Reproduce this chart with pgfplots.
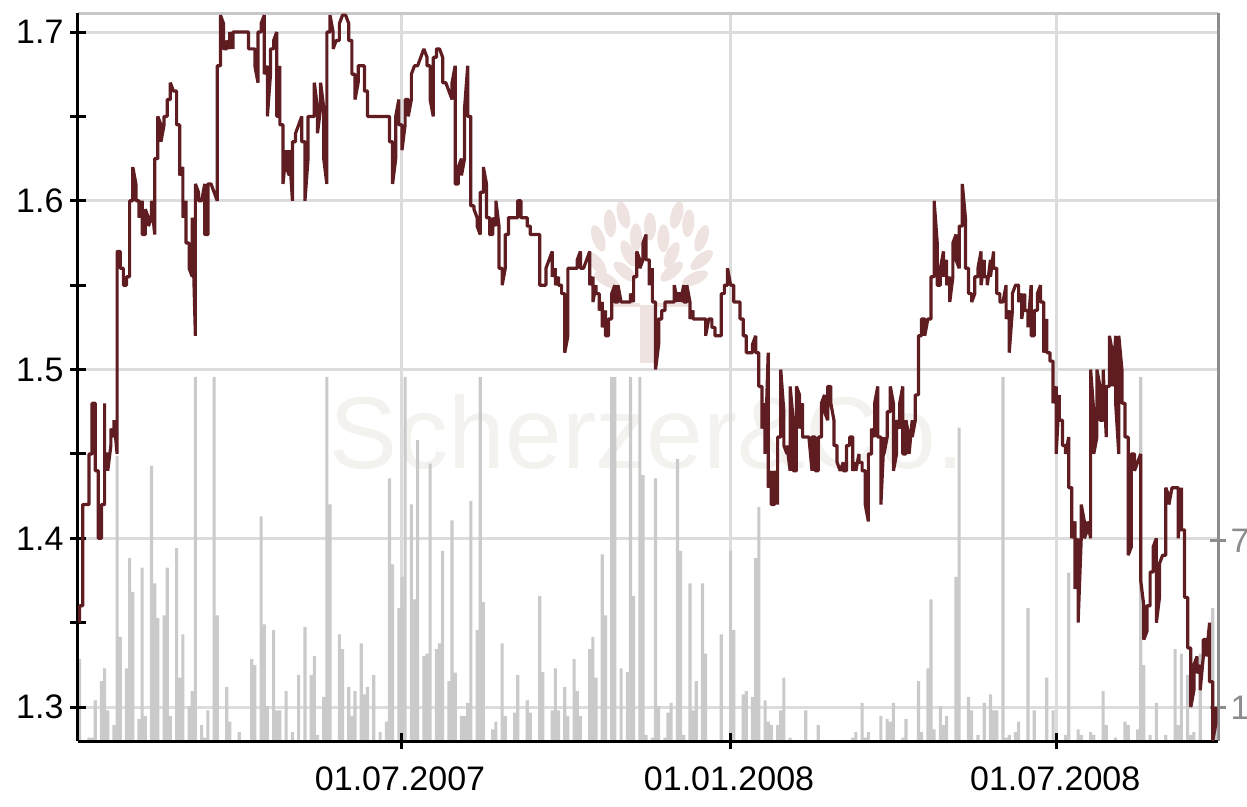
\documentclass[border=0pt]{standalone}
\usepackage{fontspec}
\setmainfont{Liberation Sans}
\usepackage{pgfplots}
\usepackage{pgfplotstable}
\pgfplotsset{compat=1.18}
\definecolor{grid}{HTML}{DCDCDC}
\definecolor{vol}{HTML}{CACACA}
\definecolor{maroon}{HTML}{5F1D22}
\definecolor{frameR}{HTML}{8C8C8C}
\definecolor{frameT}{HTML}{C8C8C8}
\definecolor{logo}{HTML}{EFE3E1}
\definecolor{wm}{HTML}{F4F2EF}
\pgfplotstableread{
k p
0 1.35
0 1.36
1 1.36
1 1.42
2 1.42
3 1.42
3 1.45
4 1.45
4 1.48
5 1.48
5 1.44
6 1.44
6 1.40
7 1.40
7 1.42
8 1.42
8 1.48
8 1.45
9 1.45
9 1.44
10 1.455
10 1.465
11 1.46
11 1.47
12 1.45
12 1.57
13 1.57
13 1.56
14 1.56
14 1.55
15 1.55
15 1.555
16 1.555
16 1.60
17 1.60
17 1.62
18 1.61
18 1.60
19 1.60
19 1.59
20 1.60
20 1.58
21 1.58
21 1.595
22 1.59
22 1.585
23 1.59
23 1.60
24 1.58
24 1.625
25 1.625
25 1.65
26 1.645
26 1.635
27 1.645
27 1.65
28 1.65
28 1.66
29 1.66
29 1.67
30 1.665
31 1.665
31 1.645
32 1.645
32 1.615
33 1.62
33 1.59
34 1.60
34 1.575
35 1.575
35 1.56
36 1.555
36 1.59
37 1.52
37 1.61
38 1.605
38 1.60
39 1.60
40 1.61
40 1.58
41 1.58
41 1.61
42 1.61
43 1.605
44 1.60
44 1.68
45 1.68
45 1.71
46 1.705
46 1.69
47 1.69
47 1.695
48 1.69
48 1.70
49 1.69
49 1.70
50 1.70
53 1.70
54 1.70
54 1.69
55 1.69
56 1.69
56 1.68
57 1.67
57 1.70
58 1.70
58 1.705
59 1.71
59 1.675
60 1.68
60 1.65
61 1.675
61 1.69
62 1.69
62 1.695
63 1.70
63 1.65
64 1.65
64 1.68
64 1.645
65 1.645
65 1.61
66 1.63
66 1.62
67 1.615
67 1.63
68 1.60
68 1.635
69 1.635
69 1.64
70 1.645
71 1.65
71 1.635
72 1.635
72 1.60
73 1.625
73 1.65
74 1.65
75 1.65
75 1.67
76 1.655
76 1.64
77 1.655
77 1.67
78 1.655
78 1.625
79 1.61
79 1.70
80 1.70
80 1.71
81 1.70
81 1.69
82 1.695
83 1.695
83 1.705
84 1.71
85 1.71
86 1.705
86 1.695
87 1.695
87 1.675
88 1.675
88 1.66
89 1.67
89 1.68
90 1.68
91 1.68
91 1.665
92 1.665
92 1.65
98 1.65
99 1.65
99 1.635
100 1.635
100 1.61
101 1.625
101 1.65
102 1.66
102 1.645
103 1.645
103 1.63
104 1.645
104 1.66
105 1.66
105 1.65
106 1.66
106 1.675
107 1.68
108 1.68
109 1.685
110 1.69
111 1.685
111 1.68
112 1.68
112 1.66
113 1.65
113 1.685
114 1.685
114 1.69
115 1.69
116 1.685
116 1.67
117 1.67
118 1.665
119 1.66
119 1.67
120 1.68
120 1.61
121 1.61
121 1.62
122 1.625
122 1.615
123 1.625
123 1.655
124 1.68
124 1.65
125 1.65
125 1.597
126 1.597
126 1.595
127 1.59
127 1.585
128 1.58
128 1.605
129 1.605
129 1.62
130 1.61
130 1.59
131 1.59
131 1.58
132 1.58
132 1.59
133 1.585
133 1.60
134 1.585
134 1.56
135 1.56
135 1.55
136 1.56
136 1.58
137 1.58
137 1.59
139 1.59
140 1.59
140 1.60
141 1.60
141 1.59
142 1.59
143 1.59
143 1.585
144 1.585
144 1.58
146 1.58
147 1.58
147 1.55
148 1.55
149 1.55
149 1.56
150 1.565
151 1.57
151 1.555
152 1.56
152 1.55
153 1.555
153 1.55
154 1.55
154 1.545
155 1.545
155 1.51
156 1.52
156 1.56
158 1.56
159 1.56
159 1.565
160 1.57
160 1.56
161 1.56
162 1.565
163 1.57
163 1.55
164 1.555
164 1.54
165 1.55
165 1.545
166 1.545
166 1.535
167 1.54
167 1.525
168 1.535
168 1.52
169 1.52
169 1.53
170 1.53
170 1.545
171 1.55
171 1.54
172 1.54
172 1.55
173 1.54
175 1.54
176 1.54
176 1.545
177 1.54
177 1.555
178 1.555
178 1.57
179 1.565
179 1.56
180 1.565
180 1.575
181 1.58
181 1.565
182 1.565
182 1.55
183 1.56
183 1.54
184 1.54
184 1.50
185 1.515
185 1.53
186 1.53
186 1.535
187 1.535
187 1.54
189 1.54
190 1.54
190 1.55
191 1.54
191 1.545
192 1.545
192 1.54
193 1.55
193 1.54
194 1.54
194 1.55
195 1.54
195 1.53
196 1.535
196 1.53
199 1.53
200 1.53
200 1.52
201 1.53
202 1.53
202 1.525
203 1.525
203 1.52
204 1.52
205 1.52
205 1.545
206 1.545
206 1.55
207 1.55
207 1.56
208 1.55
209 1.55
209 1.54
210 1.54
211 1.54
211 1.53
212 1.53
212 1.52
213 1.52
213 1.51
214 1.51
215 1.51
215 1.515
216 1.52
216 1.51
217 1.51
217 1.49
218 1.49
218 1.465
219 1.48
219 1.45
220 1.51
220 1.43
221 1.44
221 1.42
222 1.42
222 1.44
223 1.42
223 1.46
224 1.46
224 1.50
225 1.475
225 1.455
226 1.45
226 1.455
227 1.44
227 1.49
228 1.47
228 1.44
229 1.44
229 1.49
230 1.485
230 1.465
231 1.48
231 1.46
233 1.46
234 1.44
234 1.46
235 1.46
235 1.44
236 1.44
236 1.46
237 1.46
237 1.48
238 1.485
238 1.475
239 1.47
239 1.49
240 1.49
240 1.48
241 1.47
241 1.455
242 1.455
242 1.445
243 1.44
244 1.445
244 1.44
245 1.44
245 1.455
246 1.455
246 1.46
247 1.46
247 1.44
248 1.445
248 1.44
249 1.45
249 1.445
250 1.445
250 1.44
251 1.44
251 1.42
252 1.41
252 1.45
253 1.45
253 1.465
254 1.46
254 1.48
255 1.49
255 1.46
256 1.46
256 1.42
257 1.46
257 1.45
258 1.46
258 1.475
259 1.475
259 1.49
260 1.48
260 1.44
261 1.45
261 1.47
262 1.465
262 1.48
263 1.49
263 1.45
264 1.45
264 1.47
265 1.46
265 1.45
266 1.47
266 1.46
267 1.47
267 1.485
268 1.485
268 1.52
269 1.52
269 1.53
270 1.53
270 1.52
271 1.53
272 1.53
272 1.555
273 1.555
273 1.60
274 1.575
274 1.55
275 1.55
275 1.56
276 1.57
276 1.555
277 1.565
277 1.55
278 1.555
278 1.54
279 1.555
279 1.575
280 1.58
280 1.565
281 1.56
281 1.585
282 1.585
282 1.61
283 1.59
283 1.56
284 1.56
284 1.545
285 1.545
285 1.54
286 1.545
286 1.555
287 1.555
287 1.56
288 1.57
288 1.55
289 1.565
289 1.555
290 1.555
290 1.55
291 1.565
291 1.555
292 1.57
292 1.56
293 1.56
293 1.545
294 1.545
294 1.54
295 1.54
296 1.55
296 1.53
297 1.535
297 1.51
298 1.535
298 1.545
299 1.55
300 1.55
300 1.54
301 1.545
301 1.53
302 1.545
302 1.535
303 1.535
303 1.525
304 1.55
304 1.52
305 1.52
305 1.535
306 1.535
306 1.545
307 1.55
307 1.54
308 1.54
308 1.51
309 1.53
309 1.51
310 1.51
310 1.505
311 1.505
311 1.48
312 1.49
312 1.45
313 1.485
313 1.47
314 1.47
314 1.455
315 1.455
315 1.45
316 1.46
316 1.43
317 1.43
317 1.40
318 1.41
318 1.37
319 1.40
319 1.35
320 1.40
320 1.42
321 1.41
321 1.40
322 1.405
322 1.41
323 1.40
323 1.50
324 1.475
324 1.45
325 1.46
325 1.50
326 1.49
326 1.47
327 1.47
327 1.50
328 1.46
328 1.49
329 1.49
329 1.52
330 1.51
330 1.49
331 1.52
331 1.48
332 1.45
332 1.52
333 1.50
333 1.48
334 1.48
334 1.46
335 1.46
335 1.39
336 1.395
336 1.45
337 1.45
337 1.44
338 1.445
339 1.45
339 1.375
340 1.36
340 1.34
341 1.345
341 1.36
342 1.36
342 1.38
343 1.38
343 1.395
344 1.40
344 1.35
345 1.365
345 1.385
346 1.39
347 1.39
347 1.43
348 1.425
348 1.42
349 1.43
350 1.43
351 1.43
351 1.40
352 1.43
352 1.405
353 1.405
353 1.365
354 1.365
354 1.335
355 1.335
355 1.30
356 1.31
356 1.325
357 1.33
357 1.32
358 1.325
358 1.31
359 1.33
359 1.34
360 1.34
360 1.33
361 1.35
361 1.315
362 1.315
362 1.28
363 1.29
363 1.30
}\pricetable
\pgfplotstableread{
k v
0 2.93
3 .12
4 .12
5 1.46
7 2.15
8 2.60
9 1.10
11 .57
12 10.22
13 3.73
15 2.60
16 6.55
17 5.34
19 .78
20 6.21
21 .90
23 9.86
24 5.65
25 4.40
27 4.50
28 6.21
29 .90
31 6.91
32 2.27
33 3.82
35 1.25
36 1.79
37 13.05
39 .57
40 .12
41 1.10
43 13.05
44 4.50
47 1.94
48 .69
51 .32
55 2.93
56 2.72
58 8.05
59 4.18
60 1.25
62 3.97
63 1.10
64 1.10
66 1.79
68 .32
70 2.37
72 4.09
74 2.37
75 3.05
76 .22
78 1.58
79 13.05
80 8.48
83 3.82
84 3.29
86 1.94
87 .90
88 1.79
90 3.50
91 1.67
92 1.94
94 2.37
96 .32
98 .69
99 9.41
100 6.33
102 4.76
103 5.88
104 13.05
106 8.48
107 5.08
108 10.78
110 3.05
111 3.13
112 9.94
114 3.29
115 3.50
116 6.81
118 2.15
119 7.91
120 2.45
122 .90
123 .90
124 1.37
125 8.60
127 3.97
128 13.05
129 4.98
132 .42
133 .69
135 3.50
136 .90
139 1.02
140 2.37
143 1.46
144 1.02
147 5.20
148 2.47
151 1.10
152 2.60
153 1.10
155 1.94
156 .90
158 2.93
159 1.79
160 .90
163 3.29
164 3.73
165 2.27
167 6.69
168 4.50
170 13.05
171 13.05
173 2.60
175 2.47
176 13.05
177 5.20
179 13.05
180 9.53
181 .22
183 .12
184 9.41
185 1.25
187 .12
188 1.02
189 1.37
191 10.10
192 6.81
193 .22
195 5.65
196 1.10
197 2.15
199 5.65
200 3.13
205 3.82
208 6.81
209 3.97
212 1.67
213 1.79
215 1.58
216 6.55
217 8.39
219 1.46
220 .69
221 .57
223 .57
224 1.10
225 2.27
227 .12
232 1.10
236 .57
247 .12
248 .32
250 1.37
251 .12
252 .32
256 .90
258 .78
259 .69
260 1.37
263 .12
264 .78
268 2.15
269 .32
271 2.60
272 5.08
273 .42
275 1.25
276 .57
277 .90
280 5.88
281 11.23
284 1.58
285 1.10
287 .22
289 1.37
291 1.67
292 1.10
293 1.10
295 13.05
296 .12
297 .22
299 .32
300 .69
303 4.76
305 1.10
309 2.27
311 1.10
315 .22
316 6.03
319 .42
320 .22
323 .32
324 .22
327 1.79
328 .57
331 .12
334 .69
335 .57
338 .42
339 13.05
340 2.72
342 .22
344 1.37
347 .22
350 3.29
351 .57
352 3.13
354 2.37
355 .22
356 .32
358 3.13
362 4.76
363 .69
}\voltable
\newcommand{\leaf}[3]{\fill[logo, shift={({(372+#1/3)*1pt},{(591-#2/3)*1pt})}, rotate=#3] (0,0) ellipse (14pt and 6pt);}
\pgfplotsset{base/.style={
  scale only axis, width=1140pt, height=727.7pt,
  xmin=-0.5, xmax=363.7,
}}
\begin{document}
\begin{tikzpicture}[x=1pt,y=1pt]
\useasboundingbox (-78pt,-65pt) rectangle (1169pt,741pt);
% watermark
\node[text=wm, font=\fontsize{102}{110}\selectfont, anchor=center] at (569pt,309pt) {Scherzer\&Co.};
\leaf{520}{195}{105}\leaf{480}{220}{95}\leaf{445}{265}{110}\leaf{440}{340}{130}\leaf{470}{390}{150}
\leaf{525}{365}{140}\leaf{535}{310}{115}\leaf{558}{262}{90}\leaf{600}{230}{90}
\leaf{680}{195}{75}\leaf{715}{220}{85}\leaf{755}{265}{70}\leaf{755}{330}{40}\leaf{735}{385}{25}
\leaf{665}{365}{40}\leaf{665}{315}{65}\leaf{640}{265}{90}
\fill[logo] (562pt,378pt) rectangle (579pt,436pt);
\fill[logo] (535pt,434pt) rectangle (562pt,438pt);
\fill[logo] (579pt,434pt) rectangle (610pt,438pt);
% grid and top frame
\begin{axis}[base, at={(0pt,0pt)}, anchor=south west,
  ymin=1.2799, ymax=1.7111,
  axis x line*=top, axis y line*=left,
  x axis line style={draw=frameT, line width=3pt},
  y axis line style={draw=none},
  xtick={102.7,207.8,312}, ytick={1.3,1.4,1.5,1.6,1.7},
  xticklabels={,,}, yticklabels={,,,,},
  major tick length=0pt,
  grid=major, grid style={draw=grid, line width=3pt}]
\end{axis}
% volume
\begin{axis}[base, at={(0pt,0pt)}, anchor=south west,
  ymin=0, ymax=26.08,
  axis x line=none, axis y line*=right,
  y axis line style={draw=frameR, line width=3pt},
  ytick={1.195,7.19}, yticklabels={1,7},
  major tick length=16pt, ytick align=center,
  every tick/.style={draw=frameR, line width=3pt},
  yticklabel style={text=frameR, font=\fontsize{34}{38}\selectfont, xshift=1pt},
  /pgf/number format/assume math mode=true]
\addplot[ybar, bar width=3.13pt, bar shift=0pt, draw=none, fill=vol] table[x=k,y=v] {\voltable};
\end{axis}
% price
\begin{axis}[base, at={(0pt,0pt)}, anchor=south west,
  ymin=1.2799, ymax=1.7111,
  axis x line*=bottom, axis y line*=left,
  x axis line style={draw=black, line width=3pt},
  y axis line style={draw=black, line width=3pt},
  xtick={102.7,207.8,312},
  xticklabels={01.07.2007,01.01.2008,01.07.2008},
  ytick={1.3,1.4,1.5,1.6,1.7},
  yticklabels={1.3,1.4,1.5,1.6,1.7},
  minor ytick={1.35,1.45,1.55,1.65},
  major tick length=16pt, minor tick length=16pt,
  xtick align=center, ytick align=center,
  every tick/.style={draw=black, line width=3pt},
  tick label style={font=\fontsize{34}{38}\selectfont},
  xticklabel style={yshift=-14pt, xshift=-1pt},
  yticklabel style={xshift=-3pt}]
\addplot[draw=maroon, line width=3.2pt, line join=bevel] table[x=k,y=p] {\pricetable};
\end{axis}
\end{tikzpicture}
\end{document}
